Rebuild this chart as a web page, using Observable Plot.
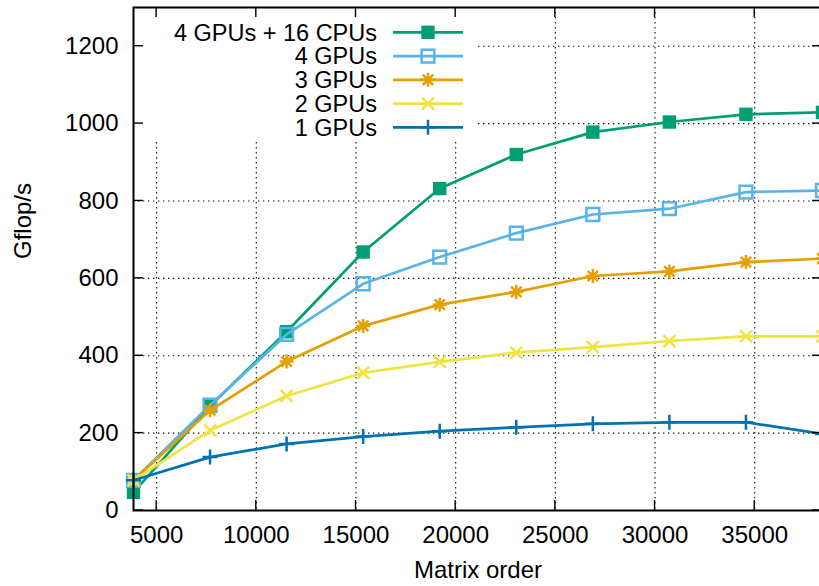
<!DOCTYPE html>
<html>
<head>
<meta charset="utf-8">
<script src="https://cdn.jsdelivr.net/npm/d3@7"></script>
<script src="https://cdn.jsdelivr.net/npm/@observablehq/plot@0.6"></script>
<style>
  html, body { margin: 0; padding: 0; background: #fff; overflow: hidden; }
  #chart svg { display: block; }
</style>
</head>
<body>
<div id="chart"></div>
<script>
// ---- data ----
const matrixOrder = [3840, 7680, 11520, 15360, 19200, 23040, 26880, 30720, 34560, 38400];
const seriesNames = ["4 GPUs + 16 CPUs", "4 GPUs", "3 GPUs", "2 GPUs", "1 GPUs"];
const gpu4cpu16 = [47, 270, 462, 668, 832, 920, 978, 1004, 1024, 1029];
const gpu4 = [78, 272, 455, 586, 655, 717, 765, 780, 823, 827];
const gpu3 = [78, 259, 385, 477, 532, 565, 606, 618, 642, 651];
const gpu2 = [78, 207, 296, 356, 384, 408, 422, 438, 450, 450];
const gpu1 = [78, 138, 172, 191, 205, 215, 224, 228, 228, 198];
const xTicks = [5000, 10000, 15000, 20000, 25000, 30000, 35000];
const yTicks = [0, 200, 400, 600, 800, 1000, 1200];
const xLabel = "Matrix order";
const yLabel = "Gflop/s";

const colors = ["#009e73", "#56b4e9", "#e69f00", "#f0e442", "#0072b2"];

// ---- symbols (gnuplot-like point types) ----
const symFilledSquare = { draw(c) { const s = 6.7; c.rect(-s, -s, 2 * s, 2 * s); } };
const symOpenSquare = { draw(c) { const s = 6.4; c.rect(-s, -s, 2 * s, 2 * s); } };
const symPlus = { draw(c) { const s = 7.5; c.moveTo(-s, 0); c.lineTo(s, 0); c.moveTo(0, -s); c.lineTo(0, s); } };
const symTimes = { draw(c) { const s = 6; c.moveTo(-s, -s); c.lineTo(s, s); c.moveTo(-s, s); c.lineTo(s, -s); } };
const symAsterisk = { draw(c) {
  const s = 7, d = 5.2;
  c.moveTo(-s, 0); c.lineTo(s, 0); c.moveTo(0, -s); c.lineTo(0, s);
  c.moveTo(-d, -d); c.lineTo(d, d); c.moveTo(-d, d); c.lineTo(d, -d);
} };

const seriesValues = [gpu4cpu16, gpu4, gpu3, gpu2, gpu1];
const symbols = [symFilledSquare, symOpenSquare, symAsterisk, symTimes, symPlus];
const filled = [true, false, false, false, false];

const series = seriesNames.map((name, i) => ({
  name, color: colors[i], symbol: symbols[i], filled: filled[i],
  data: matrixOrder.map((x, j) => ({ x, y: seriesValues[i][j], name }))
}));

const LW = 2.7;

// key box (opaque, hides grid)
function keyBox(index, scales, values, dims) {
  const g = d3.create("svg:g");
  g.append("rect")
    .attr("x", dims.marginLeft)
    .attr("y", dims.marginTop)
    .attr("width", 344)
    .attr("height", 135)
    .attr("fill", "white");
  return g.node();
}

// inward mirrored ticks
function ticks(index, scales, values, dims) {
  const { x, y } = scales;
  const left = dims.marginLeft, right = dims.width - dims.marginRight;
  const top = dims.marginTop, bottom = dims.height - dims.marginBottom;
  const L = 10;
  const g = d3.create("svg:g").attr("stroke", "black").attr("stroke-width", 1.4);
  for (const t of xTicks) {
    const px = x(t);
    g.append("line").attr("x1", px).attr("x2", px).attr("y1", bottom).attr("y2", bottom - L);
    g.append("line").attr("x1", px).attr("x2", px).attr("y1", top).attr("y2", top + L);
  }
  for (const t of yTicks) {
    const py = y(t);
    g.append("line").attr("x1", left).attr("x2", left + L).attr("y1", py).attr("y2", py);
    g.append("line").attr("x1", right).attr("x2", right - L).attr("y1", py).attr("y2", py);
  }
  return g.node();
}

// legend (gnuplot key)
function legend(index, scales, values, dims) {
  const g = d3.create("svg:g").attr("font-size", "23.5px");
  const textRight = dims.marginLeft + 244;
  const x1 = dims.marginLeft + 260, x2 = dims.marginLeft + 330, xm = (x1 + x2) / 2;
  series.forEach((s, i) => {
    const yy = dims.marginTop + 25.3 + i * 23.75;
    g.append("text")
      .attr("x", textRight).attr("y", yy)
      .attr("dy", "0.35em")
      .attr("text-anchor", "end")
      .attr("fill", "black")
      .text(s.name);
    g.append("line")
      .attr("x1", x1).attr("x2", x2).attr("y1", yy).attr("y2", yy)
      .attr("stroke", s.color).attr("stroke-width", LW);
    g.append("path")
      .attr("d", d3.symbol(s.symbol, 64)())
      .attr("transform", `translate(${xm},${yy})`)
      .attr("fill", s.filled ? s.color : "none")
      .attr("stroke", s.filled ? "none" : s.color)
      .attr("stroke-width", 2.5);
  });
  return g.node();
}

const dataMarks = series.flatMap(s => [
  Plot.line(s.data, { x: "x", y: "y", stroke: s.color, strokeWidth: LW }),
  Plot.dot(s.data, {
    x: "x", y: "y", symbol: () => s.symbol, r: 6,
    fill: s.filled ? s.color : "none",
    stroke: s.filled ? "none" : s.color,
    strokeWidth: 2.5
  })
]);

const chart = Plot.plot({
  width: 819,
  height: 586,
  marginLeft: 133,
  marginRight: -3,
  marginTop: 7,
  marginBottom: 76,
  style: { fontFamily: "'Liberation Sans', Arial, sans-serif", fontSize: "24px", background: "white", color: "black" },
  x: { domain: [3840, 38400] },
  y: { domain: [0, 1300] },
  symbol: { type: "identity" },
  marks: [
    Plot.gridX(xTicks, { stroke: "#111", strokeOpacity: 1, strokeWidth: 1.1, strokeDasharray: "1.4,3.6" }),
    Plot.gridY(yTicks.filter(d => d > 0), { stroke: "#111", strokeOpacity: 1, strokeWidth: 1.1, strokeDasharray: "1.4,3.6" }),
    keyBox,
    ...dataMarks,
    Plot.frame({ stroke: "black", strokeWidth: 2 }),
    ticks,
    Plot.axisX(xTicks, { tickSize: 0, tickPadding: 15, tickFormat: d3.format("d"), fontSize: 24, label: null }),
    Plot.axisY(yTicks, { tickSize: 0, tickPadding: 15, tickFormat: d3.format("d"), fontSize: 24, label: null }),
    Plot.text([xLabel], { frameAnchor: "bottom", dy: 60, text: d => d, fontSize: 24, fill: "black", lineAnchor: "middle" }),
    Plot.text([yLabel], { frameAnchor: "left", dx: -110, rotate: -90, text: d => d, fontSize: 24, fill: "black", lineAnchor: "middle" }),
    legend
  ]
});
document.getElementById("chart").appendChild(chart);
</script>
</body>
</html>
